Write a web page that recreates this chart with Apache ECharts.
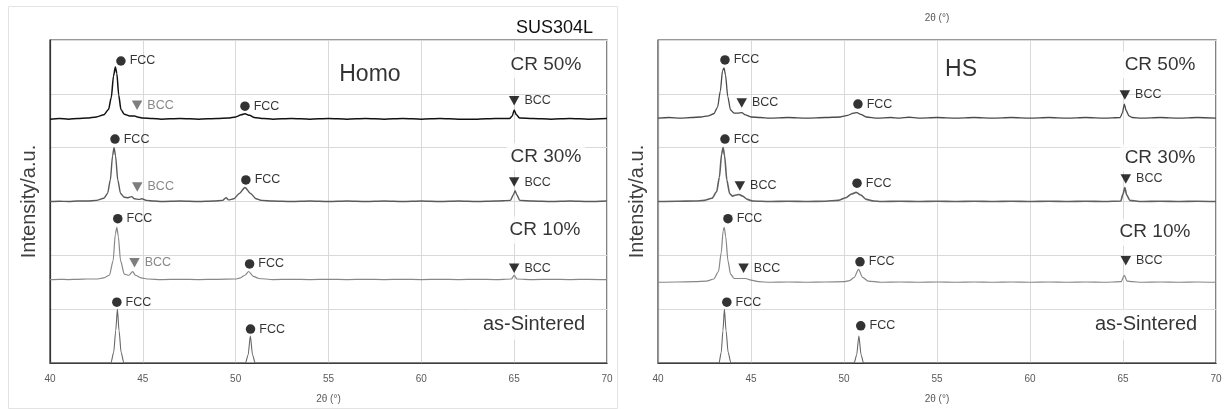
<!DOCTYPE html>
<html><head><meta charset="utf-8">
<script src="https://cdn.jsdelivr.net/npm/echarts@6/dist/echarts.min.js"></script>
<style>html,body{margin:0;padding:0;background:#fff}#c{width:1225px;height:409px}</style>
</head><body><div id="c"></div>
<script>
// ---------- DATA ----------
const xTicks = [40, 45, 50, 55, 60, 65, 70];
const patternNames = ['CR 50%', 'CR 30%', 'CR 10%', 'as-Sintered'];
// vertical offsets of each pattern (intensity units)
const homoOffsets = [4.53, 3.0, 1.55, 0];
const hsOffsets = [4.55, 3.0, 1.5, 0];

// Homo patterns: [2θ, relative intensity]
const homoCR50 = [[40,0],[40.5,0.01],[41,0],[41.5,0.01],[42,0.02],[42.5,0.04],[42.9,0.08],[43.15,0.18],[43.3,0.4],[43.42,0.8],[43.52,0.97],[43.6,0.85],[43.7,0.45],[43.82,0.18],[44.0,0.09],[44.3,0.06],[44.55,0.06],[44.7,0.04],[45,0.02],[45.5,0.01],[46,0],[47,0.01],[48,0],[49,0.01],[49.6,0.02],[50,0.04],[50.3,0.08],[50.5,0.1],[50.75,0.07],[51,0.03],[51.5,0.01],[52,0],[53,0.01],[54,0],[55,0.01],[56,0],[57,0.01],[58,0],[59,0.01],[60,0],[61,0.01],[62,0],[63,0],[64,0.01],[64.75,0.01],[64.9,0.06],[65.0,0.17],[65.12,0.08],[65.3,0.02],[66,0.01],[67,0],[68,0.01],[69,0],[70,0.01]];
const homoCR30 = [[40,0],[40.5,0.005],[41,0],[41.5,0.01],[42,0.01],[42.5,0.02],[42.9,0.06],[43.1,0.15],[43.25,0.4],[43.37,0.85],[43.45,1.0],[43.53,0.85],[43.65,0.4],[43.8,0.15],[44.0,0.08],[44.2,0.07],[44.4,0.09],[44.55,0.05],[44.8,0.04],[44.95,0.05],[45.2,0.02],[45.6,0.01],[46,0],[47,0.01],[48,0],[48.8,0.01],[49.3,0.02],[49.48,0.07],[49.62,0.03],[49.9,0.05],[50.2,0.15],[50.5,0.26],[50.8,0.15],[51.1,0.05],[51.4,0.02],[52,0.01],[53,0],[54,0.01],[55,0],[56,0.01],[57,0],[58,0.01],[59,0],[60,0.01],[61,0],[62,0.01],[63,0],[64,0.01],[64.8,0.02],[64.95,0.12],[65.05,0.2],[65.15,0.12],[65.3,0.02],[66,0.01],[67,0],[68,0.01],[69,0],[70,0.01]];
const homoCR10 = [[40,0],[40.5,0.005],[41,0],[41.5,0.005],[42,0.01],[42.5,0.01],[42.9,0.03],[43.2,0.08],[43.4,0.35],[43.52,0.85],[43.6,0.97],[43.68,0.8],[43.8,0.35],[44.0,0.1],[44.25,0.08],[44.45,0.15],[44.6,0.08],[44.9,0.03],[45.3,0.01],[46,0],[47,0.005],[48,0],[49,0.005],[50,0.01],[50.25,0.03],[50.5,0.08],[50.7,0.15],[50.95,0.06],[51.25,0.02],[52,0],[53,0.005],[54,0],[55,0.005],[56,0],[57,0.005],[58,0],[59,0.005],[60,0],[61,0.005],[62,0],[63,0.005],[64,0],[64.85,0.01],[65.0,0.08],[65.15,0.01],[66,0],[67,0.005],[68,0],[69,0.005],[70,0]];
const homoSint = [[40,0],[43.28,0],[43.43,0.2],[43.54,0.6],[43.63,1.0],[43.72,0.6],[43.83,0.2],[43.98,0],[50.53,0],[50.67,0.15],[50.79,0.5],[50.91,0.15],[51.05,0],[70,0]];

// HS patterns
const hsCR50 = [[40,0],[40.6,0.01],[41.2,0],[41.8,0.01],[42.3,0.02],[42.7,0.04],[43.0,0.08],[43.2,0.2],[43.35,0.5],[43.47,0.88],[43.55,0.93],[43.63,0.8],[43.75,0.4],[43.9,0.15],[44.1,0.09],[44.3,0.09],[44.5,0.1],[44.7,0.06],[45,0.02],[45.5,0.01],[46,0],[47,0.01],[48,0],[49,0.01],[49.8,0.02],[50.2,0.05],[50.5,0.09],[50.7,0.1],[50.9,0.07],[51.2,0.02],[51.8,0],[52.5,0.01],[53,0],[53.5,0.015],[54,0],[55,0.01],[56,0],[57,0.01],[58,0],[59,0.01],[60,0],[61,0.01],[62,0],[63,0.01],[64,0],[64.85,0.01],[64.97,0.1],[65.07,0.26],[65.17,0.14],[65.32,0.04],[65.5,0.01],[66,0],[67,0.01],[68,0],[69,0.01],[70,0]];
const hsCR30 = [[40,0],[41,0.005],[42,0.01],[42.5,0.02],[42.9,0.06],[43.15,0.18],[43.3,0.45],[43.42,0.88],[43.5,1.0],[43.58,0.85],[43.7,0.4],[43.85,0.15],[44.0,0.1],[44.2,0.12],[44.35,0.13],[44.55,0.1],[44.8,0.04],[45.1,0.01],[46,0],[47,0.005],[48,0],[49,0.005],[49.7,0.02],[50.1,0.07],[50.4,0.14],[50.65,0.17],[50.9,0.12],[51.2,0.04],[51.6,0.01],[52,0],[53,0.005],[54,0],[55,0.005],[56,0],[57,0.005],[58,0],[59,0.005],[60,0],[61,0.005],[62,0],[63,0.005],[64,0],[64.88,0.01],[65.0,0.14],[65.1,0.26],[65.2,0.12],[65.37,0.02],[66,0],[67,0.005],[68,0],[69,0.005],[70,0]];
const hsCR10 = [[40,0],[41,0.005],[42,0.01],[42.6,0.02],[43.0,0.06],[43.25,0.2],[43.4,0.55],[43.5,0.95],[43.56,1.02],[43.64,0.85],[43.76,0.4],[43.9,0.15],[44.1,0.07],[44.4,0.07],[44.7,0.07],[45.0,0.04],[45.4,0.01],[46,0],[47,0.005],[48,0],[49,0.005],[50,0.01],[50.3,0.03],[50.55,0.09],[50.78,0.24],[51.0,0.09],[51.3,0.02],[52,0],[53,0.005],[54,0],[55,0.005],[56,0],[57,0.005],[58,0],[59,0.005],[60,0],[61,0.005],[62,0],[63,0.005],[64,0],[64.9,0.01],[65.07,0.13],[65.22,0.02],[65.5,0.01],[66,0],[67,0.005],[68,0],[69,0.005],[70,0]];
const hsSint = [[40,0],[43.28,0],[43.4,0.2],[43.49,0.6],[43.57,1.0],[43.66,0.6],[43.77,0.2],[43.92,0],[50.55,0],[50.68,0.15],[50.8,0.5],[50.92,0.15],[51.05,0],[70,0]];

// Phase markers: [2θ, intensity, phase]  (fcc / bcc / bccFaint)
const homoMarks = [[43.82,5.61,'fcc'],[44.69,4.79,'bccFaint'],[50.5,4.77,'fcc'],[65.0,4.87,'bcc'],
  [43.5,4.16,'fcc'],[44.7,3.27,'bccFaint'],[50.55,3.40,'fcc'],[65.0,3.36,'bcc'],
  [43.65,2.68,'fcc'],[44.55,1.86,'bccFaint'],[50.75,1.84,'fcc'],[65.0,1.76,'bcc'],
  [43.6,1.13,'fcc'],[50.8,0.63,'fcc']];
const hsMarks = [[43.6,5.63,'fcc'],[44.5,4.83,'bcc'],[50.75,4.81,'fcc'],[65.1,4.98,'bcc'],
  [43.6,4.16,'fcc'],[44.4,3.29,'bcc'],[50.7,3.34,'fcc'],[65.15,3.42,'bcc'],
  [43.76,2.68,'fcc'],[44.6,1.76,'bcc'],[50.86,1.88,'fcc'],[65.15,1.9,'bcc'],
  [43.7,1.13,'fcc'],[50.9,0.69,'fcc']];

// Panel texts: [2θ, intensity, text]
const homoTexts = [[57.23,5.35,'Homo'],[66.71,5.54,'CR 50%'],[66.71,3.83,'CR 30%'],[66.66,2.47,'CR 10%'],[66.07,0.71,'as-Sintered']];
const hsTexts = [[56.29,5.44,'HS'],[66.99,5.54,'CR 50%'],[66.99,3.81,'CR 30%'],[66.72,2.43,'CR 10%'],[66.24,0.71,'as-Sintered']];

// ---------- BUILD ----------
const FONT = 'Liberation Sans';
const homoColors = ['#111111', '#5a5a5a', '#888888', '#666666'];
const homoWidths = [1.5, 1.4, 1.2, 1.1];
const hsColors = ['#4a4a4a', '#606060', '#888888', '#666666'];
const hsWidths = [1.3, 1.6, 1.2, 1.1];

function shift(arr, off) { return arr.map(p => [p[0], p[1] + off]); }

function lineSeries(arr, off, idx, color, width, name) {
  return { type: 'line', name: name, xAxisIndex: idx, yAxisIndex: idx, data: shift(arr, off),
    showSymbol: false, smooth: 0.25, smoothMonotone: 'x', z: 2,
    lineStyle: { color: color, width: width }, silent: true, animation: false };
}

function markSeries(marks, idx) {
  return { type: 'scatter', xAxisIndex: idx, yAxisIndex: idx, z: 5, animation: false, silent: true,
    data: marks.map(m => {
      const isFcc = m[2] === 'fcc';
      const col = m[2] === 'bccFaint' ? '#5e5e5e' : '#000';
      return { value: [m[0], m[1]],
        symbol: isFcc ? 'circle' : 'triangle', symbolRotate: isFcc ? 0 : 180,
        symbolSize: isFcc ? 9.5 : [10.5, 9.5], itemStyle: { color: col },
        label: { show: true, position: 'right', distance: isFcc ? 4 : 5,
          formatter: isFcc ? 'FCC' : 'BCC', fontFamily: FONT, fontSize: 12.5,
          color: m[2] === 'bccFaint' ? '#6a6a6a' : '#000' } };
    }) };
}

function textSeries(texts, idx) {
  return { type: 'scatter', xAxisIndex: idx, yAxisIndex: idx, z: 4, animation: false, silent: true,
    symbolSize: 1, itemStyle: { color: 'rgba(0,0,0,0)' },
    data: texts.map(t => {
      const big = (t[2] === 'Homo' || t[2] === 'HS');
      const sint = t[2] === 'as-Sintered';
      return { value: [t[0], t[1]],
        label: { show: true, position: 'inside', formatter: t[2], fontFamily: FONT,
          fontSize: big ? 23 : (sint ? 20 : 19), color: '#000',
          backgroundColor: '#fff', padding: sint ? [6, 14, 4, 14] : (big ? [4, 6, 6, 6] : [4, 4, 4, 4]) } };
    }) };
}

const series = [];
[homoCR50, homoCR30, homoCR10, homoSint].forEach((a, i) => series.push(lineSeries(a, homoOffsets[i], 0, homoColors[i], homoWidths[i], 'Homo ' + patternNames[i])));
[hsCR50, hsCR30, hsCR10, hsSint].forEach((a, i) => series.push(lineSeries(a, hsOffsets[i], 1, hsColors[i], hsWidths[i], 'HS ' + patternNames[i])));
series.push(textSeries(homoTexts, 0), textSeries(hsTexts, 1));
series.push(markSeries(homoMarks, 0), markSeries(hsMarks, 1));

function xAxis(idx) {
  return { type: 'value', gridIndex: idx, min: xTicks[0], max: xTicks[xTicks.length - 1],
    interval: xTicks[1] - xTicks[0], name: '2θ (°)', nameLocation: 'middle', nameGap: 31,
    nameTextStyle: { fontFamily: FONT, fontSize: 10, color: '#595959' },
    axisLine: { show: true, lineStyle: { color: '#333', width: 1.2 } }, axisTick: { show: false },
    axisLabel: { fontFamily: FONT, fontSize: 10, color: '#595959', margin: 11 },
    splitLine: { show: true, lineStyle: { color: '#d9d9d9', width: 1 } } };
}
function yAxis(idx, lineColor) {
  return { type: 'value', gridIndex: idx, min: 0, max: 6, interval: 1,
    name: 'Intensity/a.u.', nameLocation: 'middle', nameGap: 11, nameRotate: 90,
    nameTextStyle: { fontFamily: FONT, fontSize: 20, color: '#404040' },
    axisLine: { show: true, lineStyle: { color: lineColor, width: 1.2 } }, axisTick: { show: false },
    axisLabel: { show: false },
    splitLine: { show: true, lineStyle: { color: '#d9d9d9', width: 1 } } };
}

const chart = echarts.init(document.getElementById('c'), null, { renderer: 'canvas' });
chart.setOption({
  animation: false,
  backgroundColor: '#fff',
  textStyle: { fontFamily: FONT },
  grid: [
    { left: 50, right: 618, top: 40, bottom: 46, show: true, borderColor: '#333', borderWidth: 1.2, backgroundColor: 'transparent' },
    { left: 658, right: 9, top: 40, bottom: 46, show: true, borderColor: '#333', borderWidth: 1.2, backgroundColor: 'transparent' }
  ],
  xAxis: [xAxis(0), xAxis(1)],
  yAxis: [yAxis(0, '#333'), yAxis(1, '#9a9a9a')],
  graphic: [
    { type: 'rect', shape: { x: 8.5, y: 6.5, width: 609, height: 402 }, style: { fill: 'none', stroke: '#e3e3e3', lineWidth: 1 }, z: -10, silent: true },
    { type: 'text', x: 593, y: 28, style: { text: 'SUS304L', fontFamily: FONT, fontSize: 18, fill: '#111', align: 'right', verticalAlign: 'middle' }, silent: true },
    { type: 'text', x: 937, y: 18, style: { text: '2θ (°)', fontFamily: FONT, fontSize: 10, fill: '#595959', align: 'center', verticalAlign: 'middle' }, silent: true }
  ],
  series: series
});
</script></body></html>
